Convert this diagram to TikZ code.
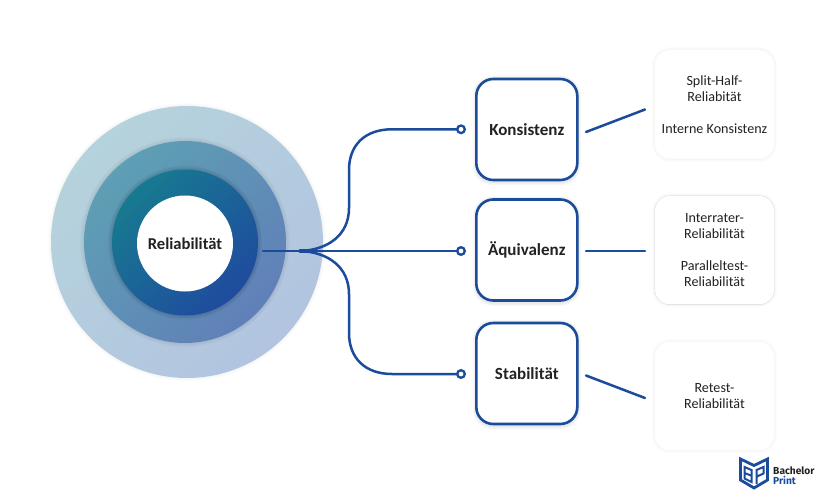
\documentclass[tikz,border=0pt]{standalone}
\usepackage{fontspec}
\setmainfont{Carlito}
\newfontfamily\logofont{Fira Sans}
\definecolor{navy}{HTML}{1B4B9B}
\definecolor{inka}{HTML}{177A90}\definecolor{inkb}{HTML}{1F4B9F}
\definecolor{mida}{HTML}{5E9FB4}\definecolor{midb}{HTML}{6080B8}
\definecolor{outa}{HTML}{B5D3DC}\definecolor{outb}{HTML}{B2C4E0}
\definecolor{textc}{HTML}{222222}
\tikzset{
  mainbox/.style={draw=navy,line width=2.6pt,fill=white,rounded corners=17pt,minimum width=101pt,minimum height=101pt,inner sep=0pt,outer sep=0pt,font=\bfseries\fontsize{17}{20}\selectfont,text=textc},
  subbox/.style={fill=white,rounded corners=15pt,minimum width=119pt,minimum height=108.5pt,inner sep=0pt,outer sep=0pt,align=center,font=\fontsize{14.1}{16}\selectfont,text=textc},
  wire/.style={draw=navy,line width=2.5pt,line cap=round},
  dot/.style={circle,draw=navy,line width=2.3pt,fill=white,minimum size=7.6pt,inner sep=0pt,outer sep=0pt},
  logoline/.style={draw=navy,line width=2.8pt,line join=miter},
}
\begin{document}
\begin{tikzpicture}[x=1pt,y=-1pt]
\useasboundingbox (0,0) rectangle (825,500);
\fill[white] (0,0) rectangle (825,500);
% rings with soft shadows
\foreach \r in {3,2,1}{\fill[black,opacity=.012] (187,242) circle ({136+\r});}
\shade[top color=outa,bottom color=outb,shading angle=45] (187,242) circle (136);
\foreach \r in {4,3,2,1}{\fill[black,opacity=.015] (185,242) circle ({101+\r});}
\shade[top color=mida,bottom color=midb,shading angle=45] (185,242) circle (101);
\foreach \r in {4,3,2,1}{\fill[black,opacity=.03] (185,242.5) circle ({73+\r});}
\shade[top color=inka,bottom color=inkb,shading angle=45] (185,242.5) circle (73);
\node[circle,fill=white,minimum size=96pt,inner sep=0pt,outer sep=0pt,font=\bfseries\fontsize{16.6}{20}\selectfont,text=textc] (rel) at (185,243.5) {Reliabilität};
% box shadows
\foreach \cy in {129.5,250,373.5}{
  \foreach \g in {7,5,3,1}{\draw[black,opacity=.022,line width=\g pt,rounded corners=17pt] (476,\cy-50.5) rectangle (577.5,\cy+52.5);}
}
\foreach \ya/\yb in {50/159,196/304.5,342/450}{
  \foreach \g in {6,4,2}{\draw[black,opacity=.012,line width=\g pt,rounded corners=15pt] (655,\ya) rectangle (774,\yb);}
}
\draw[black,opacity=.14,line width=.7pt,rounded corners=15pt] (655,196) rectangle (774,304.5);
% main boxes
\node[mainbox] (kon) at (526.8,129.5) {\raisebox{-.6pt}{Konsistenz}};
\node[mainbox] (aeq) at (526.8,250) {\raisebox{-.6pt}{Äquivalenz}};
\node[mainbox] (sta) at (526.8,373.5) {Stabilität};
% sub boxes
\node[subbox] (sk) at (714.5,104.5) {Split-Half-\\Reliabität\\[16pt]Interne Konsistenz};
\node[subbox] (sa) at (714.5,250.2) {Interrater-\\Reliabilität\\[16pt]Paralleltest-\\Reliabilität};
\node[subbox] (ss) at (714.5,396) {Retest-\\Reliabilität};
% dots and connector points
\node[dot] (d1) at (461,129.3) {};
\node[dot] (d2) at (461,251) {};
\node[dot] (d3) at (461,374) {};
\coordinate (start) at (263,251);
\coordinate (hub) at (300,251);
\coordinate (k1) at (586,132);\coordinate (k2) at (645,109.5);
\coordinate (a1) at (586,251);\coordinate (a2) at (645,251);
\coordinate (s1) at (586,375.5);\coordinate (s2) at (645,398);
% connectors
\draw[wire] (start) -- (d2);
\draw[wire,line width=3.2pt] (hub) -- ++(16,0);
\draw[wire] (hub) .. controls (328,250) and (349,235) .. (349,208) -- (349,170) .. controls (349,145) and (365,129.3) .. (392,129.3) -- (d1);
\draw[wire] (hub) .. controls (328,252) and (349,267) .. (349,294) -- (349,333) .. controls (349,358) and (365,374) .. (392,374) -- (d3);
\draw[wire] (k1) -- (k2);
\draw[wire] (a1) -- (a2);
\draw[wire] (s1) -- (s2);
% logo
\draw[logoline] (740.5,459) -- (754,465.5) -- (767.5,459) -- (767.5,480) -- (754,488) -- (740.5,480) -- cycle;
\draw[navy,line width=2pt] (744.5,467) -- (751.5,470) -- (751.5,482) -- (744.5,478.5) -- cycle (744.5,473) -- (751,475.5);
\draw[navy,line width=2pt] (756.5,484) -- (756.5,470) -- (763.5,467) -- (763.5,473.5) -- (757,476.5);
\node[anchor=west,inner sep=0pt,font=\logofont\bfseries\fontsize{10.2}{10}\selectfont,text=textc] (lg1) at (773,471) {Bachelor};
\node[anchor=west,inner sep=0pt,font=\logofont\bfseries\fontsize{10.2}{10}\selectfont,text=navy] (lg2) at (773,480.5) {Print};
\end{tikzpicture}
\end{document}
